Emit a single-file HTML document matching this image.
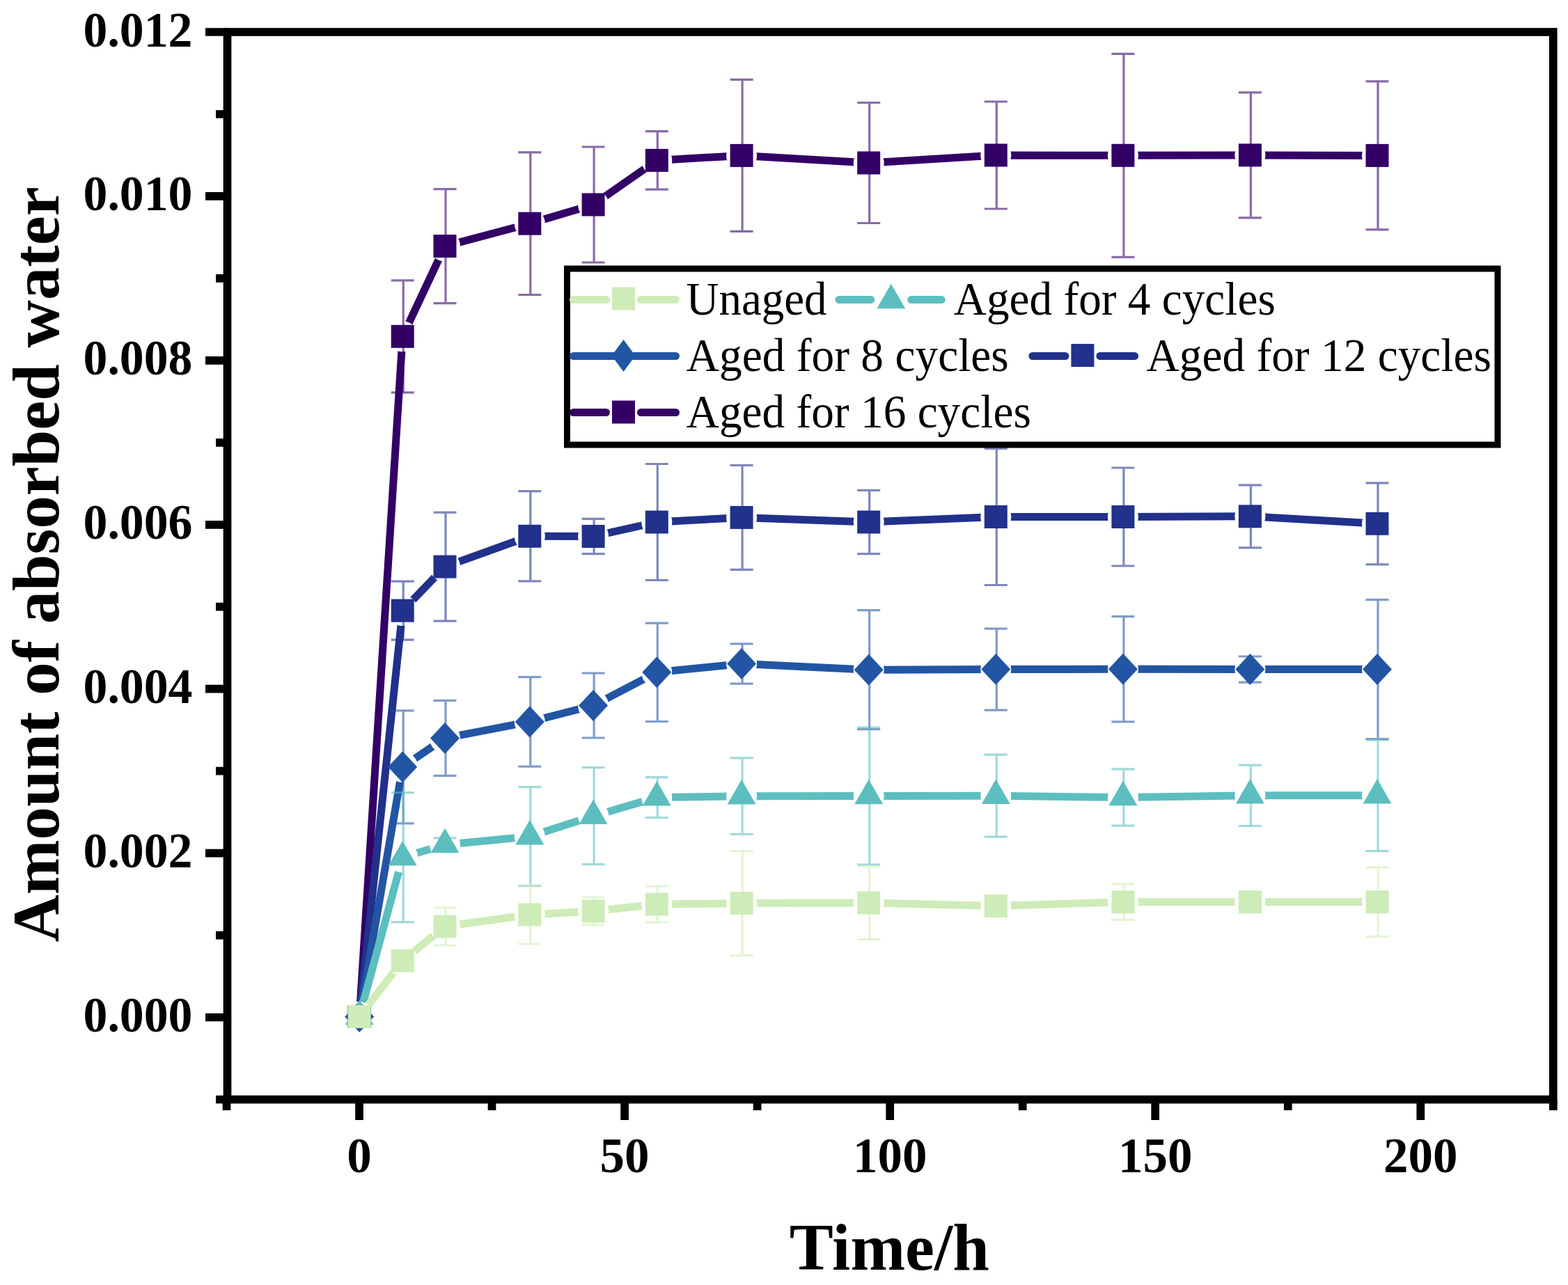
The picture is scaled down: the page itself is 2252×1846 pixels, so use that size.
<!DOCTYPE html>
<html><head><meta charset="utf-8"><title>Amount of absorbed water vs Time</title>
<style>
html,body{margin:0;padding:0;background:#fff;overflow:hidden;}
svg{display:block;}
text{font-family:"Liberation Serif","Times New Roman",serif;fill:#000;}
</style></head><body>
<svg width="2252" height="1846" viewBox="0 0 2252 1846">
<rect width="2252" height="1846" fill="#fff"/>

<path d="M579.2 402.8V563.8M561.7 402.8H594.7M561.7 563.8H594.7M640.0 271.6V435.6M622.5 271.6H655.5M622.5 435.6H655.5M761.8 218.9V423.5M744.3 218.9H777.3M744.3 423.5H777.3M853.1 211.0V377.0M835.6 211.0H868.6M835.6 377.0H868.6M944.3 188.7V272.1M926.8 188.7H959.8M926.8 272.1H959.8M1066.1 114.4V332.4M1048.6 114.4H1081.6M1048.6 332.4H1081.6M1248.7 147.5V320.5M1231.2 147.5H1264.2M1231.2 320.5H1264.2M1431.3 146.0V300.0M1413.8 146.0H1446.8M1413.8 300.0H1446.8M1613.9 77.3V369.3M1596.4 77.3H1629.4M1596.4 369.3H1629.4M1796.4 132.9V312.9M1778.9 132.9H1811.9M1778.9 312.9H1811.9M1979.0 116.9V329.9M1961.5 116.9H1994.5M1961.5 329.9H1994.5" stroke="#330066" stroke-opacity="0.58" stroke-width="3.2" fill="none"/>
<mask id="m_a16" maskUnits="userSpaceOnUse" x="0" y="0" width="2252" height="1846"><rect width="2252" height="1846" fill="#fff"/><g fill="#000"><circle cx="516.2" cy="1460.5" r="22.0"/><circle cx="578.2" cy="483.3" r="22.0"/><circle cx="639.0" cy="353.6" r="22.0"/><circle cx="760.8" cy="321.2" r="22.0"/><circle cx="852.1" cy="294.0" r="22.0"/><circle cx="943.3" cy="230.4" r="22.0"/><circle cx="1065.1" cy="223.4" r="22.0"/><circle cx="1247.7" cy="234.0" r="22.0"/><circle cx="1430.3" cy="223.0" r="22.0"/><circle cx="1612.9" cy="223.3" r="22.0"/><circle cx="1795.4" cy="222.9" r="22.0"/><circle cx="1978.0" cy="223.4" r="22.0"/></g></mask>
<path d="M516.2 1460.5L578.2 483.3L639.0 353.6L760.8 321.2L852.1 294.0L943.3 230.4L1065.1 223.4L1247.7 234.0L1430.3 223.0L1612.9 223.3L1795.4 222.9L1978.0 223.4" stroke="#330066" stroke-width="11.0" stroke-linejoin="round" fill="none" mask="url(#m_a16)"/>
<g><rect x="499.7" y="1444.0" width="33.0" height="33.0" fill="#330066"/><rect x="561.7" y="466.8" width="33.0" height="33.0" fill="#330066"/><rect x="622.5" y="337.1" width="33.0" height="33.0" fill="#330066"/><rect x="744.3" y="304.7" width="33.0" height="33.0" fill="#330066"/><rect x="835.6" y="277.5" width="33.0" height="33.0" fill="#330066"/><rect x="926.8" y="213.9" width="33.0" height="33.0" fill="#330066"/><rect x="1048.6" y="206.9" width="33.0" height="33.0" fill="#330066"/><rect x="1231.2" y="217.5" width="33.0" height="33.0" fill="#330066"/><rect x="1413.8" y="206.5" width="33.0" height="33.0" fill="#330066"/><rect x="1596.4" y="206.8" width="33.0" height="33.0" fill="#330066"/><rect x="1778.9" y="206.4" width="33.0" height="33.0" fill="#330066"/><rect x="1961.5" y="206.9" width="33.0" height="33.0" fill="#330066"/></g>
<path d="M579.2 835.2V919.2M561.7 835.2H594.7M561.7 919.2H594.7M640.0 736.1V892.1M622.5 736.1H655.5M622.5 892.1H655.5M761.8 705.7V834.9M744.3 705.7H777.3M744.3 834.9H777.3M853.1 745.3V795.7M835.6 745.3H868.6M835.6 795.7H868.6M944.3 666.5V833.5M926.8 666.5H959.8M926.8 833.5H959.8M1066.1 668.4V818.4M1048.6 668.4H1081.6M1048.6 818.4H1081.6M1248.7 704.3V795.7M1231.2 704.3H1264.2M1231.2 795.7H1264.2M1431.3 644.5V840.5M1413.8 644.5H1446.8M1413.8 840.5H1446.8M1613.9 672.0V813.0M1596.4 672.0H1629.4M1596.4 813.0H1629.4M1796.4 696.8V786.8M1778.9 696.8H1811.9M1778.9 786.8H1811.9M1979.0 693.8V810.8M1961.5 693.8H1994.5M1961.5 810.8H1994.5" stroke="#21318c" stroke-opacity="0.58" stroke-width="3.2" fill="none"/>
<mask id="m_a12" maskUnits="userSpaceOnUse" x="0" y="0" width="2252" height="1846"><rect width="2252" height="1846" fill="#fff"/><g fill="#000"><circle cx="516.2" cy="1460.5" r="22.0"/><circle cx="578.2" cy="877.2" r="22.0"/><circle cx="639.0" cy="814.1" r="22.0"/><circle cx="760.8" cy="770.3" r="22.0"/><circle cx="852.1" cy="770.5" r="22.0"/><circle cx="943.3" cy="750.0" r="22.0"/><circle cx="1065.1" cy="743.4" r="22.0"/><circle cx="1247.7" cy="750.0" r="22.0"/><circle cx="1430.3" cy="742.5" r="22.0"/><circle cx="1612.9" cy="742.5" r="22.0"/><circle cx="1795.4" cy="741.8" r="22.0"/><circle cx="1978.0" cy="752.3" r="22.0"/></g></mask>
<path d="M516.2 1460.5L578.2 877.2L639.0 814.1L760.8 770.3L852.1 770.5L943.3 750.0L1065.1 743.4L1247.7 750.0L1430.3 742.5L1612.9 742.5L1795.4 741.8L1978.0 752.3" stroke="#21318c" stroke-width="11.0" stroke-linejoin="round" fill="none" mask="url(#m_a12)"/>
<g><rect x="499.7" y="1444.0" width="33.0" height="33.0" fill="#21318c"/><rect x="561.7" y="860.7" width="33.0" height="33.0" fill="#21318c"/><rect x="622.5" y="797.6" width="33.0" height="33.0" fill="#21318c"/><rect x="744.3" y="753.8" width="33.0" height="33.0" fill="#21318c"/><rect x="835.6" y="754.0" width="33.0" height="33.0" fill="#21318c"/><rect x="926.8" y="733.5" width="33.0" height="33.0" fill="#21318c"/><rect x="1048.6" y="726.9" width="33.0" height="33.0" fill="#21318c"/><rect x="1231.2" y="733.5" width="33.0" height="33.0" fill="#21318c"/><rect x="1413.8" y="726.0" width="33.0" height="33.0" fill="#21318c"/><rect x="1596.4" y="726.0" width="33.0" height="33.0" fill="#21318c"/><rect x="1778.9" y="725.3" width="33.0" height="33.0" fill="#21318c"/><rect x="1961.5" y="735.8" width="33.0" height="33.0" fill="#21318c"/></g>
<path d="M579.2 1020.8V1182.8M561.7 1020.8H594.7M561.7 1182.8H594.7M640.0 1006.4V1114.4M622.5 1006.4H655.5M622.5 1114.4H655.5M761.8 972.7V1101.1M744.3 972.7H777.3M744.3 1101.1H777.3M853.1 967.0V1060.0M835.6 967.0H868.6M835.6 1060.0H868.6M944.3 895.1V1036.5M926.8 895.1H959.8M926.8 1036.5H959.8M1066.1 924.8V982.2M1048.6 924.8H1081.6M1048.6 982.2H1081.6M1248.7 876.7V1047.7M1231.2 876.7H1264.2M1231.2 1047.7H1264.2M1431.3 903.1V1020.1M1413.8 903.1H1446.8M1413.8 1020.1H1446.8M1613.9 885.6V1036.8M1596.4 885.6H1629.4M1596.4 1036.8H1629.4M1796.4 943.0V980.2M1778.9 943.0H1811.9M1778.9 980.2H1811.9M1979.0 861.6V1061.6M1961.5 861.6H1994.5M1961.5 1061.6H1994.5" stroke="#2255a4" stroke-opacity="0.58" stroke-width="3.2" fill="none"/>
<mask id="m_a8" maskUnits="userSpaceOnUse" x="0" y="0" width="2252" height="1846"><rect width="2252" height="1846" fill="#fff"/><g fill="#000"><circle cx="516.2" cy="1460.5" r="22.0"/><circle cx="578.2" cy="1101.8" r="22.0"/><circle cx="639.0" cy="1060.4" r="22.0"/><circle cx="760.8" cy="1036.9" r="22.0"/><circle cx="852.1" cy="1013.5" r="22.0"/><circle cx="943.3" cy="965.8" r="22.0"/><circle cx="1065.1" cy="953.5" r="22.0"/><circle cx="1247.7" cy="962.2" r="22.0"/><circle cx="1430.3" cy="961.6" r="22.0"/><circle cx="1612.9" cy="961.2" r="22.0"/><circle cx="1795.4" cy="961.6" r="22.0"/><circle cx="1978.0" cy="961.6" r="22.0"/></g></mask>
<path d="M516.2 1460.5L578.2 1101.8L639.0 1060.4L760.8 1036.9L852.1 1013.5L943.3 965.8L1065.1 953.5L1247.7 962.2L1430.3 961.6L1612.9 961.2L1795.4 961.6L1978.0 961.6" stroke="#2255a4" stroke-width="11.0" stroke-linejoin="round" fill="none" mask="url(#m_a8)"/>
<g><path d="M516.2 1438.0L537.2 1460.5L516.2 1483.0L495.2 1460.5Z" fill="#2255a4"/><path d="M578.2 1079.3L599.2 1101.8L578.2 1124.3L557.2 1101.8Z" fill="#2255a4"/><path d="M639.0 1037.9L660.0 1060.4L639.0 1082.9L618.0 1060.4Z" fill="#2255a4"/><path d="M760.8 1014.4L781.8 1036.9L760.8 1059.4L739.8 1036.9Z" fill="#2255a4"/><path d="M852.1 991.0L873.1 1013.5L852.1 1036.0L831.1 1013.5Z" fill="#2255a4"/><path d="M943.3 943.3L964.3 965.8L943.3 988.3L922.3 965.8Z" fill="#2255a4"/><path d="M1065.1 931.0L1086.1 953.5L1065.1 976.0L1044.1 953.5Z" fill="#2255a4"/><path d="M1247.7 939.7L1268.7 962.2L1247.7 984.7L1226.7 962.2Z" fill="#2255a4"/><path d="M1430.3 939.1L1451.3 961.6L1430.3 984.1L1409.3 961.6Z" fill="#2255a4"/><path d="M1612.9 938.7L1633.9 961.2L1612.9 983.7L1591.9 961.2Z" fill="#2255a4"/><path d="M1795.4 939.1L1816.4 961.6L1795.4 984.1L1774.4 961.6Z" fill="#2255a4"/><path d="M1978.0 939.1L1999.0 961.6L1978.0 984.1L1957.0 961.6Z" fill="#2255a4"/></g>
<path d="M579.2 1138.6V1324.6M561.7 1138.6H594.7M561.7 1324.6H594.7M640.0 1203.8V1223.2M622.5 1203.8H655.5M622.5 1223.2H655.5M761.8 1130.7V1272.7M744.3 1130.7H777.3M744.3 1272.7H777.3M853.1 1102.7V1241.7M835.6 1102.7H868.6M835.6 1241.7H868.6M944.3 1116.7V1174.5M926.8 1116.7H959.8M926.8 1174.5H959.8M1066.1 1088.9V1198.5M1048.6 1088.9H1081.6M1048.6 1198.5H1081.6M1248.7 1045.0V1242.0M1231.2 1045.0H1264.2M1231.2 1242.0H1264.2M1431.3 1084.2V1202.2M1413.8 1084.2H1446.8M1413.8 1202.2H1446.8M1613.9 1104.9V1186.1M1596.4 1104.9H1629.4M1596.4 1186.1H1629.4M1796.4 1099.1V1186.5M1778.9 1099.1H1811.9M1778.9 1186.5H1811.9M1979.0 1063.0V1222.6M1961.5 1063.0H1994.5M1961.5 1222.6H1994.5" stroke="#5dbebf" stroke-opacity="0.58" stroke-width="3.2" fill="none"/>
<mask id="m_a4" maskUnits="userSpaceOnUse" x="0" y="0" width="2252" height="1846"><rect width="2252" height="1846" fill="#fff"/><g fill="#000"><circle cx="516.2" cy="1460.5" r="22.0"/><circle cx="578.2" cy="1231.6" r="22.0"/><circle cx="639.0" cy="1213.5" r="22.0"/><circle cx="760.8" cy="1201.7" r="22.0"/><circle cx="852.1" cy="1172.2" r="22.0"/><circle cx="943.3" cy="1145.6" r="22.0"/><circle cx="1065.1" cy="1143.7" r="22.0"/><circle cx="1247.7" cy="1143.5" r="22.0"/><circle cx="1430.3" cy="1143.2" r="22.0"/><circle cx="1612.9" cy="1145.5" r="22.0"/><circle cx="1795.4" cy="1142.8" r="22.0"/><circle cx="1978.0" cy="1142.8" r="22.0"/></g></mask>
<path d="M516.2 1460.5L578.2 1231.6L639.0 1213.5L760.8 1201.7L852.1 1172.2L943.3 1145.6L1065.1 1143.7L1247.7 1143.5L1430.3 1143.2L1612.9 1145.5L1795.4 1142.8L1978.0 1142.8" stroke="#5dbebf" stroke-width="11.0" stroke-linejoin="round" fill="none" mask="url(#m_a4)"/>
<g><path d="M516.2 1436.8L536.7 1472.3L495.7 1472.3Z" fill="#5dbebf"/><path d="M578.2 1207.9L598.7 1243.4L557.7 1243.4Z" fill="#5dbebf"/><path d="M639.0 1189.8L659.5 1225.3L618.5 1225.3Z" fill="#5dbebf"/><path d="M760.8 1178.0L781.3 1213.5L740.3 1213.5Z" fill="#5dbebf"/><path d="M852.1 1148.5L872.6 1184.0L831.6 1184.0Z" fill="#5dbebf"/><path d="M943.3 1121.9L963.8 1157.4L922.8 1157.4Z" fill="#5dbebf"/><path d="M1065.1 1120.0L1085.6 1155.5L1044.6 1155.5Z" fill="#5dbebf"/><path d="M1247.7 1119.8L1268.2 1155.3L1227.2 1155.3Z" fill="#5dbebf"/><path d="M1430.3 1119.5L1450.8 1155.0L1409.8 1155.0Z" fill="#5dbebf"/><path d="M1612.9 1121.8L1633.4 1157.3L1592.4 1157.3Z" fill="#5dbebf"/><path d="M1795.4 1119.1L1815.9 1154.6L1774.9 1154.6Z" fill="#5dbebf"/><path d="M1978.0 1119.1L1998.5 1154.6L1957.5 1154.6Z" fill="#5dbebf"/></g>
<path d="M579.2 1372.2V1388.2M561.7 1372.2H594.7M561.7 1388.2H594.7M640.0 1304.0V1358.0M622.5 1304.0H655.5M622.5 1358.0H655.5M761.8 1272.0V1356.0M744.3 1272.0H777.3M744.3 1356.0H777.3M853.1 1289.0V1329.0M835.6 1289.0H868.6M835.6 1329.0H868.6M944.3 1273.2V1324.8M926.8 1273.2H959.8M926.8 1324.8H959.8M1066.1 1222.6V1372.6M1048.6 1222.6H1081.6M1048.6 1372.6H1081.6M1248.7 1244.5V1349.5M1231.2 1244.5H1264.2M1231.2 1349.5H1264.2M1431.3 1293.5V1309.5M1413.8 1293.5H1446.8M1413.8 1309.5H1446.8M1613.9 1270.2V1321.4M1596.4 1270.2H1629.4M1596.4 1321.4H1629.4M1796.4 1287.7V1303.7M1778.9 1287.7H1811.9M1778.9 1303.7H1811.9M1979.0 1246.2V1345.4M1961.5 1246.2H1994.5M1961.5 1345.4H1994.5" stroke="#ceecb7" stroke-opacity="0.58" stroke-width="3.2" fill="none"/>
<mask id="m_un" maskUnits="userSpaceOnUse" x="0" y="0" width="2252" height="1846"><rect width="2252" height="1846" fill="#fff"/><g fill="#000"><circle cx="516.2" cy="1460.5" r="22.0"/><circle cx="578.2" cy="1380.2" r="22.0"/><circle cx="639.0" cy="1331.0" r="22.0"/><circle cx="760.8" cy="1314.0" r="22.0"/><circle cx="852.1" cy="1309.0" r="22.0"/><circle cx="943.3" cy="1299.0" r="22.0"/><circle cx="1065.1" cy="1297.6" r="22.0"/><circle cx="1247.7" cy="1297.0" r="22.0"/><circle cx="1430.3" cy="1301.5" r="22.0"/><circle cx="1612.9" cy="1295.8" r="22.0"/><circle cx="1795.4" cy="1295.7" r="22.0"/><circle cx="1978.0" cy="1295.8" r="22.0"/></g></mask>
<path d="M516.2 1460.5L578.2 1380.2L639.0 1331.0L760.8 1314.0L852.1 1309.0L943.3 1299.0L1065.1 1297.6L1247.7 1297.0L1430.3 1301.5L1612.9 1295.8L1795.4 1295.7L1978.0 1295.8" stroke="#ceecb7" stroke-width="11.0" stroke-linejoin="round" fill="none" mask="url(#m_un)"/>
<g><rect x="499.7" y="1444.0" width="33.0" height="33.0" fill="#ceecb7"/><rect x="561.7" y="1363.7" width="33.0" height="33.0" fill="#ceecb7"/><rect x="622.5" y="1314.5" width="33.0" height="33.0" fill="#ceecb7"/><rect x="744.3" y="1297.5" width="33.0" height="33.0" fill="#ceecb7"/><rect x="835.6" y="1292.5" width="33.0" height="33.0" fill="#ceecb7"/><rect x="926.8" y="1282.5" width="33.0" height="33.0" fill="#ceecb7"/><rect x="1048.6" y="1281.1" width="33.0" height="33.0" fill="#ceecb7"/><rect x="1231.2" y="1280.5" width="33.0" height="33.0" fill="#ceecb7"/><rect x="1413.8" y="1285.0" width="33.0" height="33.0" fill="#ceecb7"/><rect x="1596.4" y="1279.3" width="33.0" height="33.0" fill="#ceecb7"/><rect x="1778.9" y="1279.2" width="33.0" height="33.0" fill="#ceecb7"/><rect x="1961.5" y="1279.3" width="33.0" height="33.0" fill="#ceecb7"/></g>
<rect x="326.5" y="46.0" width="1904.2" height="1533.5" fill="none" stroke="#000" stroke-width="11.7"/>
<path d="M295 1461.5H326.5M295 1225.6H326.5M295 989.7H326.5M295 753.8H326.5M295 517.8H326.5M295 281.9H326.5M295 46.0H326.5M310 1579.5H326.5M310 1343.6H326.5M310 1107.7H326.5M310 871.7H326.5M310 635.8H326.5M310 399.9H326.5M310 164.0H326.5M516.0 1579.5V1609M897.1 1579.5V1609M1278.2 1579.5V1609M1659.2 1579.5V1609M2040.3 1579.5V1609M325.5 1579.5V1595M706.5 1579.5V1595M1087.6 1579.5V1595M1468.7 1579.5V1595M1849.8 1579.5V1595M2230.8 1579.5V1595" stroke="#000" stroke-width="11.7" fill="none"/>
<text x="276.5" y="1482.0" font-size="71" font-weight="bold" text-anchor="end" textLength="157" lengthAdjust="spacingAndGlyphs">0.000</text>
<text x="276.5" y="1246.1" font-size="71" font-weight="bold" text-anchor="end" textLength="157" lengthAdjust="spacingAndGlyphs">0.002</text>
<text x="276.5" y="1010.2" font-size="71" font-weight="bold" text-anchor="end" textLength="157" lengthAdjust="spacingAndGlyphs">0.004</text>
<text x="276.5" y="774.3" font-size="71" font-weight="bold" text-anchor="end" textLength="157" lengthAdjust="spacingAndGlyphs">0.006</text>
<text x="276.5" y="538.3" font-size="71" font-weight="bold" text-anchor="end" textLength="157" lengthAdjust="spacingAndGlyphs">0.008</text>
<text x="276.5" y="302.4" font-size="71" font-weight="bold" text-anchor="end" textLength="157" lengthAdjust="spacingAndGlyphs">0.010</text>
<text x="276.5" y="66.5" font-size="71" font-weight="bold" text-anchor="end" textLength="157" lengthAdjust="spacingAndGlyphs">0.012</text>
<text x="516.0" y="1684" font-size="71" font-weight="bold" text-anchor="middle">0</text>
<text x="897.1" y="1684" font-size="71" font-weight="bold" text-anchor="middle">50</text>
<text x="1278.2" y="1684" font-size="71" font-weight="bold" text-anchor="middle">100</text>
<text x="1659.2" y="1684" font-size="71" font-weight="bold" text-anchor="middle">150</text>
<text x="2040.3" y="1684" font-size="71" font-weight="bold" text-anchor="middle">200</text>
<text transform="translate(84,1353.5) rotate(-90)" font-size="94.6" font-weight="bold">Amount of absorbed water</text>
<text x="1133.8" y="1823.6" font-size="94.5" font-weight="bold">Time/h</text>
<rect x="814.5" y="386" width="1336.5" height="253" fill="#fff" stroke="#000" stroke-width="9"/>
<path d="M823.5 430.5H870.5M920.5 430.5H970.5" stroke="#ceecb7" stroke-width="11.0" stroke-linecap="round" fill="none"/><rect x="879.0" y="412.5" width="33.0" height="33.0" fill="#ceecb7"/>
<path d="M1205.1 430.5H1250.8M1308.8 430.5H1352.2" stroke="#5dbebf" stroke-width="11.0" stroke-linecap="round" fill="none"/><path d="M1279.8 407.8L1300.3 443.3L1259.3 443.3Z" fill="#5dbebf"/>
<path d="M823.5 511.5H970.5" stroke="#2255a4" stroke-width="11.0" stroke-linecap="round" fill="none"/><path d="M895.5 488.0L912.5 511.0L895.5 534.0L878.5 511.0Z" fill="#2255a4"/>
<path d="M1482.9 511.5H1529.9M1579.9 511.5H1629.6" stroke="#21318c" stroke-width="11.0" stroke-linecap="round" fill="none"/><rect x="1538.4" y="494.0" width="33.0" height="33.0" fill="#21318c"/>
<path d="M823.5 592.5H870.5M920.5 592.5H970.5" stroke="#330066" stroke-width="11.0" stroke-linecap="round" fill="none"/><rect x="879.0" y="575.5" width="33.0" height="33.0" fill="#330066"/>
<text x="985.5" y="451.5" font-size="67" textLength="202" lengthAdjust="spacingAndGlyphs">Unaged</text>
<text x="1369.8" y="451.5" font-size="67" textLength="462" lengthAdjust="spacingAndGlyphs">Aged for 4 cycles</text>
<text x="985.8" y="532.5" font-size="67" textLength="463" lengthAdjust="spacingAndGlyphs">Aged for 8 cycles</text>
<text x="1646.5" y="532.5" font-size="67" textLength="495.5" lengthAdjust="spacingAndGlyphs">Aged for 12 cycles</text>
<text x="985.8" y="613.7" font-size="67" textLength="495" lengthAdjust="spacingAndGlyphs">Aged for 16 cycles</text>
</svg>
</body></html>
